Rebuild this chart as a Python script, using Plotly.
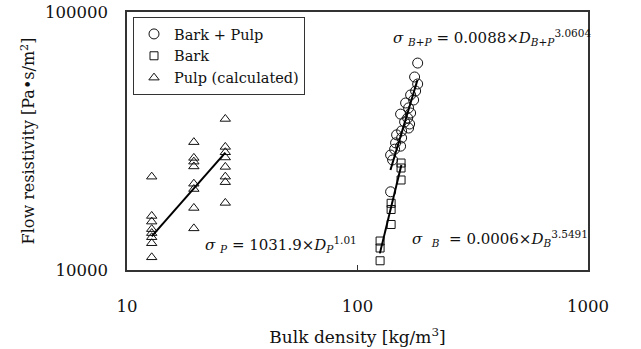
import plotly.graph_objects as go

# ---- data ----
bp_density = [182.4, 176.9, 182.4, 178.7, 170.0, 175.2, 161.7, 166.6, 153.8, 165.0, 168.3,
              160.1, 166.6, 155.4, 147.8, 155.4, 153.8, 146.3, 144.9, 139.2, 142.0, 139.2, 170.0]
bp_sigma = [63400, 56000, 52600, 49400, 47700, 45600, 44400, 42500, 40200, 38800, 36800,
            37500, 35500, 34600, 33400, 32500, 30200, 31100, 29400, 27900, 26700, 20100, 40600]

bark_density = [125.3, 125.3, 125.3, 139.9, 139.9, 139.9, 154.5, 154.5, 154.5]
bark_sigma = [12950, 12170, 10860, 18140, 17160, 15010, 25980, 24850, 22330]

pulp_density = [12.8] * 8 + [19.5] * 8 + [26.7] * 8
pulp_sigma = [23000, 16200, 15400, 14400, 13900, 13400, 12700, 11200,
              31300, 27200, 26300, 25200, 21600, 20600, 17400, 14500,
              38500, 30000, 28600, 27300, 25100, 23000, 21900, 18200]

# fitted power-law lines (endpoints in data units)
pulp_fit_density = [12.8, 26.7]
pulp_fit_sigma = [13500, 28500]
bp_fit_density = [139, 182]
bp_fit_sigma = [24400, 54500]
bark_fit_density = [125, 155]
bark_fit_sigma = [11600, 25500]

x_ticks = [10, 100, 1000]
y_ticks = [10000, 100000]

FONT = "DejaVu Serif"
INK = "#111111"

fig = go.Figure()
fig.add_trace(go.Scatter(x=bp_density, y=bp_sigma, mode="markers", name="Bark + Pulp",
                         marker=dict(symbol="circle-open", size=10, color=INK, line=dict(width=1, color=INK))))
fig.add_trace(go.Scatter(x=bark_density, y=bark_sigma, mode="markers", name="Bark",
                         marker=dict(symbol="square-open", size=8, color=INK, line=dict(width=1, color=INK))))
fig.add_trace(go.Scatter(x=pulp_density, y=pulp_sigma, mode="markers", name="Pulp (calculated)",
                         marker=dict(symbol="triangle-up-open", size=9, color=INK, line=dict(width=1, color=INK))))
for fx, fy in [(pulp_fit_density, pulp_fit_sigma), (bp_fit_density, bp_fit_sigma),
               (bark_fit_density, bark_fit_sigma)]:
    fig.add_trace(go.Scatter(x=fx, y=fy, mode="lines", showlegend=False,
                             line=dict(color="black", width=2), hoverinfo="skip"))

ann_font = dict(family=FONT, size=15, color=INK)
fig.add_annotation(xref="paper", yref="paper", x=(391 - 127) / 461, y=(270 - 38) / 258,
                   xanchor="left", yanchor="middle", showarrow=False, font=ann_font,
                   text="<i>σ</i> <sub><i>B+P</i></sub> = 0.0088×<i>D</i><sub><i>B+P</i></sub><sup>3.0604</sup>")
fig.add_annotation(xref="paper", yref="paper", x=(203 - 127) / 461, y=(270 - 244) / 258,
                   xanchor="left", yanchor="middle", showarrow=False, font=ann_font,
                   text="<i>σ</i> <sub><i>P</i></sub> = 1031.9×<i>D</i><sub><i>P</i></sub><sup>1.01</sup>")
fig.add_annotation(xref="paper", yref="paper", x=(410 - 127) / 461, y=(270 - 238) / 258,
                   xanchor="left", yanchor="middle", showarrow=False, font=ann_font,
                   text="<i>σ</i>&nbsp; <sub><i>B</i></sub> &nbsp;= 0.0006×<i>D</i><sub><i>B</i></sub><sup>3.5491</sup>")

axis_common = dict(type="log", showgrid=False, zeroline=False, showline=True, linecolor="#333333",
                   linewidth=1.5, mirror=True, ticks="inside", ticklen=5, tickcolor="#333333",
                   automargin=False, tickfont=dict(family=FONT, size=16.5, color=INK))
fig.update_layout(
    width=641, height=349,
    margin=dict(l=127, r=53, t=12, b=79),
    paper_bgcolor="white", plot_bgcolor="white",
    xaxis=dict(axis_common, range=[1, 3], tickvals=x_ticks, ticktext=[str(v) for v in x_ticks],
               ticklabelstandoff=20,
               title=dict(text="Bulk density [kg/m<sup>3</sup>]", font=dict(family=FONT, size=17, color=INK),
                          standoff=17)),
    yaxis=dict(axis_common, range=[4, 5], tickvals=y_ticks, ticktext=[str(v) for v in y_ticks],
               ticklabelstandoff=14,
               title=dict(text="Flow resistivity [Pa•s/m<sup>2</sup>]", font=dict(family=FONT, size=16, color=INK),
                          standoff=6)),
    legend=dict(x=(133 - 127) / 461, y=(270 - 17) / 258, xanchor="left", yanchor="top",
                bordercolor="#333333", borderwidth=1, bgcolor="white",
                font=dict(family=FONT, size=14.5, color=INK), tracegroupgap=0, itemwidth=30),
    showlegend=True,
)

fig.write_html("out.html")
